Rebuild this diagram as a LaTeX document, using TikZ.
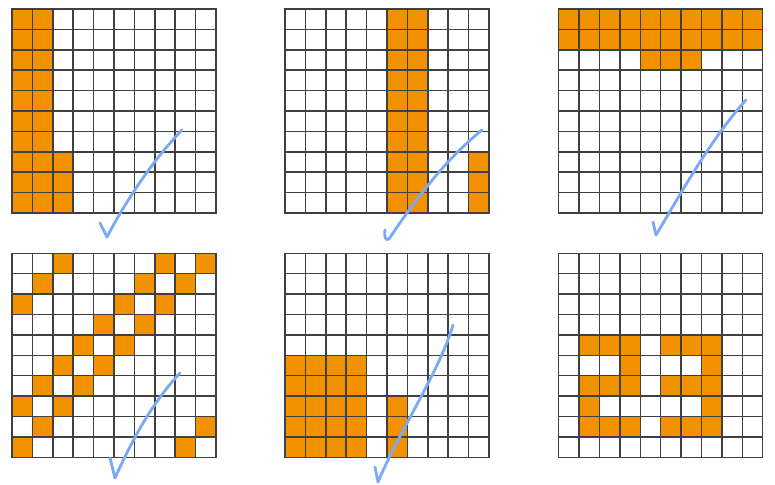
\documentclass[tikz,border=0pt]{standalone}
\usepackage{tikz}

\definecolor{boxorange}{RGB}{242,146,0}
\definecolor{tickblue}{RGB}{122,170,245}

% one 10x10 pixel grid: top-left corner (#1,#2), filled blocks col/row/width/height in #3
\newcommand{\pixgrid}[3]{%
	\begin{scope}[shift={(#1,#2)}, x=0.612cm, y=-0.612cm]
		\foreach \cx/\cy/\cw/\ch in {#3}
			\fill[cell] (\cx,\cy) rectangle ++(\cw,\ch);
		\foreach \i in {0,...,10} {
			\draw[gridline] (\i,0) -- (\i,10);
			\draw[gridline] (0,\i) -- (10,\i);
		}
	\end{scope}}

\begin{document}
\begin{tikzpicture}[x=0.03cm, y=-0.03cm,
	cell/.style={fill=boxorange},
	gridline/.style={draw=black!75, line width=1.3pt, line cap=rect},
	tick/.style={draw=tickblue, line width=2.4pt, line cap=round, line join=round}]
	\useasboundingbox (0,0) rectangle (775,485);

	% top row
	\pixgrid{12}{9}{0/0/2/10, 2/7/1/3}
	\pixgrid{285}{9}{5/0/2/10, 9/7/1/3}
	\pixgrid{558.7}{9}{0/0/10/2, 4/2/3/1}

	% bottom row
	\pixgrid{12}{253.3}{2/0/1/1, 7/0/1/1, 9/0/1/1, 1/1/1/1, 6/1/1/1, 8/1/1/1,
		0/2/1/1, 5/2/1/1, 7/2/1/1, 4/3/1/1, 6/3/1/1, 3/4/1/1, 5/4/1/1,
		2/5/1/1, 4/5/1/1, 1/6/1/1, 3/6/1/1, 0/7/1/1, 2/7/1/1,
		1/8/1/1, 9/8/1/1, 0/9/1/1, 8/9/1/1}
	\pixgrid{285}{253.3}{0/5/4/5, 5/7/1/3}
	\pixgrid{558.7}{253.3}{1/4/3/1, 5/4/3/1, 3/5/1/1, 7/5/1/1, 1/6/3/1, 5/6/3/1,
		1/7/1/1, 7/7/1/1, 1/8/3/1, 5/8/3/1}

	% hand-drawn ticks
	\draw[tick] (100,223) -- (107,237) .. controls (122,208) and (150,163) .. (182,130);
	\draw[tick] (385,230) .. controls (384,238) and (386,241) .. (389,239)
		.. controls (415,200) and (445,160) .. (482,130);
	\draw[tick] (653,222) -- (656,235) .. controls (680,195) and (710,140) .. (746,100);
	\draw[tick] (110,458) -- (115,478) .. controls (130,445) and (150,405) .. (180,373);
	\draw[tick] (375,467) -- (378,482) .. controls (400,430) and (440,370) .. (453,325);
\end{tikzpicture}
\end{document}
